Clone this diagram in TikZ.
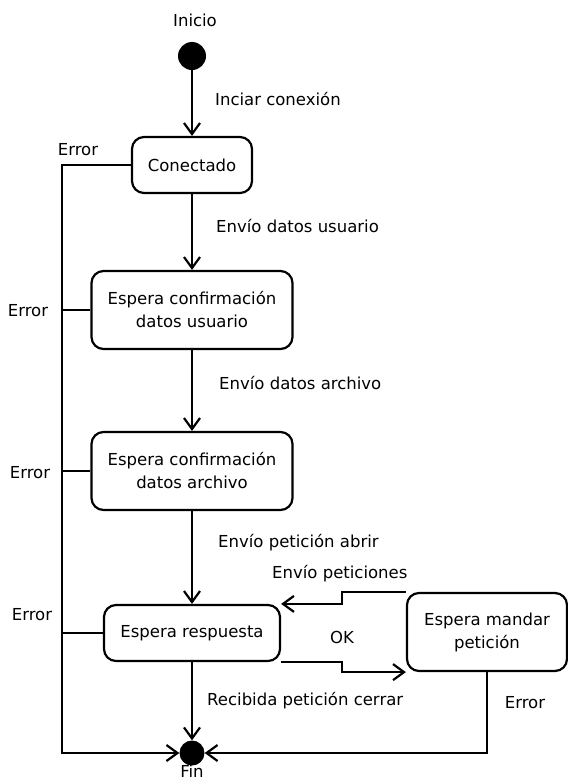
\documentclass[tikz,border=0pt]{standalone}
\usepackage{fontspec}
\setmainfont{DejaVu Sans}
\usetikzlibrary{arrows.meta}
\tikzset{
  state/.style={draw, line width=2.2pt, rounded corners=12pt, align=center,
    inner sep=0pt, fill=white},
  dot/.style={circle, fill=black, inner sep=0pt},
  lbl/.style={inner sep=0pt, anchor=west},
  txt/.style={inner sep=0pt},
  flow/.style={line width=2.2pt, -{Straight Barb[length=11pt,width=16pt,line width=2.2pt]}},
  wire/.style={line width=2.2pt},
}
\begin{document}
\begin{tikzpicture}[x=1pt, y=-1pt, font=\fontsize{16.5}{23}\selectfont]
\useasboundingbox (0,0) rectangle (568,780);
\fill[white] (0,0) rectangle (568,780);

% states
\node[dot, minimum size=28pt] (start) at (192,56) {};
\node[txt] (inicio) at (195,20) {Inicio};
\node[state, minimum width=120pt, minimum height=56pt] (conectado) at (192,165) {Conectado};
\node[state, minimum width=201pt, minimum height=78pt] (confusr) at (192,310) {Espera confirmación\\datos usuario};
\node[state, minimum width=201pt, minimum height=78pt] (confarch) at (192,471) {Espera confirmación\\datos archivo};
\node[state, minimum width=176pt, minimum height=56pt] (resp) at (192,633) {Espera respuesta};
\node[state, minimum width=160pt, minimum height=78pt] (mandar) at (487,632) {Espera mandar\\petición};
\node[dot, minimum size=25pt] (fin) at (192,753) {};
\node[txt] (fintxt) at (192,771) {Fin};

% turning points of the connectors
\coordinate (railbot) at (62,753);
\coordinate (turn) at (342,630);

% main transitions
\draw[flow] (start) -- (conectado);
\draw[flow] (conectado) -- (confusr);
\draw[flow] (confusr) -- (confarch);
\draw[flow] (confarch) -- (resp);
\draw[flow] (resp) -- (fin);

% error transitions
\draw[flow] (conectado.west) -| (railbot) -- (fin);
\draw[wire] (confusr.west) -- (confusr.west -| railbot);
\draw[wire] (confarch.west) -- (confarch.west -| railbot);
\draw[wire] (resp.west) -- (resp.west -| railbot);
\draw[flow] (mandar.south) |- (fin);

% request loop
\draw[flow] (mandar.north west) -- (mandar.north west -| turn) |- (resp.north east);
\draw[flow] (resp.south east) -- (resp.south east -| turn) |- (mandar.south west);

% transition labels
\node[lbl] (l1) at (215,99) {Inciar conexión};
\node[lbl] (l2) at (216,226) {Envío datos usuario};
\node[lbl] (l3) at (219,383) {Envío datos archivo};
\node[lbl] (l4) at (218,543) {Envío petición abrir};
\node[lbl] (l5) at (272,574) {Envío peticiones};
\node[txt] (l6) at (342,637) {OK};
\node[lbl] (l7) at (207,701) {Recibida petición cerrar};
\node[txt] (e1) at (78,150) {Error};
\node[txt] (e2) at (28,311) {Error};
\node[txt] (e3) at (30,473) {Error};
\node[txt] (e4) at (32,615) {Error};
\node[txt] (e5) at (525,703) {Error};
\end{tikzpicture}
\end{document}
